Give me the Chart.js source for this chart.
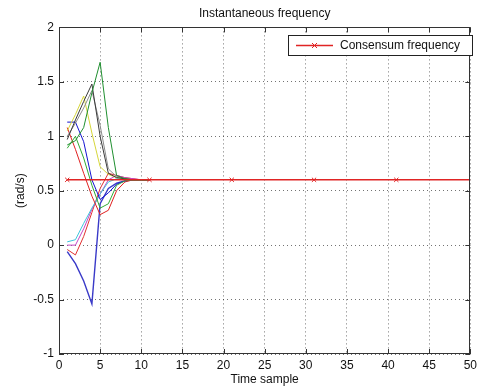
<!DOCTYPE html>
<html>
<head>
<meta charset="utf-8">
<script src="https://cdn.jsdelivr.net/npm/chart.js@4.4.1/dist/chart.umd.min.js"></script>
<style>
  html, body { margin: 0; padding: 0; background: #fff; }
</style>
</head>
<body>
<canvas id="id-freqChart" width="481" height="390"></canvas>
<script>
// time samples shared by every agent trace
var timeSample = [1, 2, 3, 4, 5, 6, 7, 8, 9, 10, 11];

// per-agent instantaneous frequency (rad/s)
var agentDarkGreen = [0.92, 0.96, 1.08, 1.40, 1.68, 1.08, 0.64, 0.61, 0.60, 0.60, 0.60];
var agentGreen     = [0.89, 1.00, 0.80, 0.55, 0.34, 0.38, 0.55, 0.59, 0.60, 0.60, 0.60];
var agentBlack     = [0.97, 1.15, 1.32, 1.48, 1.00, 0.66, 0.62, 0.61, 0.60, 0.60, 0.60];
var agentGrey      = [1.00, 1.12, 1.26, 1.42, 1.10, 0.70, 0.63, 0.61, 0.60, 0.60, 0.60];
var agentYellow    = [1.05, 1.20, 1.37, 1.03, 0.72, 0.65, 0.62, 0.61, 0.60, 0.60, 0.60];
var agentBlue      = [1.13, 1.13, 0.95, 0.60, 0.42, 0.48, 0.56, 0.59, 0.60, 0.60, 0.60];
var agentRed       = [1.08, 0.88, 0.66, 0.45, 0.28, 0.32, 0.50, 0.58, 0.60, 0.60, 0.60];
var agentCyan      = [0.03, 0.05, 0.20, 0.34, 0.47, 0.58, 0.61, 0.60, 0.60, 0.60, 0.60];
var agentMagenta   = [0.00, 0.00, 0.15, 0.33, 0.47, 0.60, 0.64, 0.62, 0.61, 0.60, 0.60];
var agentRedLow    = [-0.04, -0.09, 0.08, 0.30, 0.52, 0.66, 0.64, 0.62, 0.61, 0.60, 0.60];
var agentBlueLow   = [-0.06, -0.17, -0.33, -0.54, 0.38, 0.52, 0.57, 0.59, 0.60, 0.60, 0.60];

// consensus value and where its markers sit
var consensusX = [1, 11, 21, 31, 41, 50];
var consensusFreq = 0.6;

var agentSeries = [
  [agentDarkGreen, "#1f8f2f", 1],
  [agentGreen, "#33aa33", 1],
  [agentBlack, "#3a3a3a", 1],
  [agentGrey, "#8c8c8c", 1],
  [agentYellow, "#d6d63a", 1],
  [agentBlue, "#1414d0", 1],
  [agentRed, "#e02020", 1],
  [agentCyan, "#3ec4dc", 1],
  [agentMagenta, "#c545c5", 1],
  [agentRedLow, "#e03030", 1],
  [agentBlueLow, "#3a3ac8", 1.4]
];

var fontFamily = "'Liberation Sans', Arial, Helvetica, sans-serif";
var textColor = "#111";
var consensusColor = "#e02424";

function toPoints(xs, ys) {
  return xs.map(function(x, i) { return {x: x, y: ys[i]}; });
}

var datasets = [{
  label: "Consensum frequency",
  data: consensusX.map(function(x) { return {x: x, y: consensusFreq}; }),
  borderColor: consensusColor,
  backgroundColor: consensusColor,
  borderWidth: 1.4,
  pointStyle: "crossRot",
  pointRadius: consensusX.map(function(x) { return x === 50 ? 0 : 3; }),
  pointBorderWidth: 1
}];
agentSeries.forEach(function(s) {
  datasets.push({
    data: toPoints(timeSample, s[0]),
    borderColor: s[1],
    borderWidth: s[2],
    pointRadius: 0
  });
});

// ----------------------------- box, inward ticks, legend -----------------------------
var axisBox = {
  id: "axisBox",
  afterDraw: function(chart) {
    var ctx = chart.ctx, a = chart.chartArea;
    var xs = chart.scales.x, ys = chart.scales.y;
    ctx.save();
    ctx.strokeStyle = "#333";
    ctx.lineWidth = 1;
    ctx.strokeRect(Math.round(a.left) + 0.5, Math.round(a.top) + 0.5,
      Math.round(a.right - a.left) - 1, Math.round(a.bottom - a.top) - 1);
    ctx.beginPath();
    xs.ticks.forEach(function(t) {
      var px = Math.round(xs.getPixelForValue(t.value)) + 0.5;
      ctx.moveTo(px, a.bottom); ctx.lineTo(px, a.bottom - 5);
      ctx.moveTo(px, a.top); ctx.lineTo(px, a.top + 5);
    });
    ys.ticks.forEach(function(t) {
      var py = Math.round(ys.getPixelForValue(t.value)) + 0.5;
      ctx.moveTo(a.left, py); ctx.lineTo(a.left + 5, py);
      ctx.moveTo(a.right, py); ctx.lineTo(a.right - 5, py);
    });
    ctx.stroke();

    // legend
    var lx = 288.5, ly = 35.5, lw = 184, lh = 20, cy = ly + lh / 2;
    ctx.fillStyle = "#fff";
    ctx.fillRect(lx, ly, lw, lh);
    ctx.strokeStyle = "#222";
    ctx.strokeRect(lx, ly, lw, lh);
    ctx.strokeStyle = consensusColor;
    ctx.lineWidth = 1.4;
    ctx.beginPath();
    ctx.moveTo(296, cy); ctx.lineTo(333, cy);
    ctx.stroke();
    ctx.lineWidth = 1;
    ctx.beginPath();
    ctx.moveTo(312, cy - 2.5); ctx.lineTo(317, cy + 2.5);
    ctx.moveTo(312, cy + 2.5); ctx.lineTo(317, cy - 2.5);
    ctx.stroke();
    ctx.fillStyle = textColor;
    ctx.font = "12px " + fontFamily;
    ctx.textBaseline = "middle";
    ctx.fillText("Consensum frequency", 340, cy + 0.5);
    ctx.restore();
  }
};

new Chart("id-freqChart", {
  type: "line",
  data: {datasets: datasets},
  plugins: [axisBox],
  options: {
    responsive: false,
    animation: false,
    devicePixelRatio: 1,
    layout: {padding: {left: 0, right: 7, top: 0, bottom: 0}},
    elements: {line: {tension: 0, fill: false}},
    plugins: {
      legend: {display: false},
      tooltip: {enabled: false},
      title: {
        display: true,
        text: "Instantaneous frequency",
        fullSize: false,
        color: textColor,
        font: {family: fontFamily, size: 12, weight: "normal"},
        padding: {top: 6, bottom: 7}
      }
    },
    scales: {
      x: {
        type: "linear",
        min: 0,
        max: 50,
        ticks: {stepSize: 5, padding: 4, color: textColor, font: {family: fontFamily, size: 12}, maxRotation: 0},
        grid: {color: "rgba(0,0,0,0.55)", drawTicks: false},
        border: {display: false, dash: [1, 3]},
        title: {display: true, text: "Time sample", color: textColor,
                font: {family: fontFamily, size: 12}, padding: {top: 0, bottom: 3}},
        afterFit: function(s) { s.height = 36; }
      },
      y: {
        type: "linear",
        min: -1,
        max: 2,
        ticks: {
          stepSize: 0.5, padding: 5, color: textColor, font: {family: fontFamily, size: 12},
          callback: function(v) { return String(Math.round(v * 10) / 10); }
        },
        grid: {color: "rgba(0,0,0,0.55)", drawTicks: false},
        border: {display: false, dash: [1, 3]},
        title: {display: true, text: "(rad/s)", color: textColor,
                font: {family: fontFamily, size: 12}, padding: {top: 13, bottom: 0}},
        afterFit: function(s) { s.width = 59; }
      }
    }
  }
});
</script>
</body>
</html>
